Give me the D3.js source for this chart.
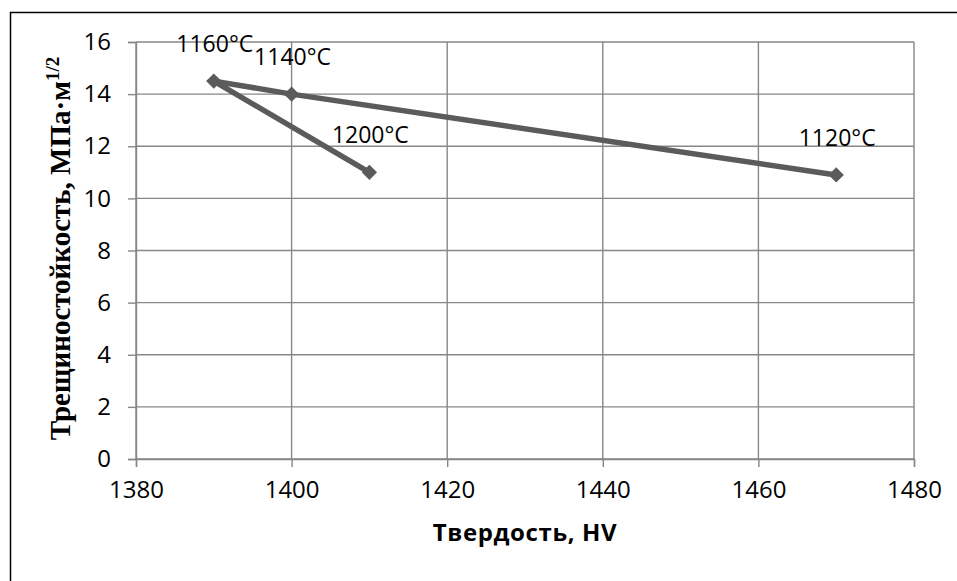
<!DOCTYPE html>
<html>
<head>
<meta charset="utf-8">
<script src="https://cdn.jsdelivr.net/npm/d3@7"></script>
<style>
  body { margin: 0; background: #fff; }
  svg text { fill: #000; }
</style>
</head>
<body>
<div id="chart"></div>
<script>
// данные: твердость HV, трещиностойкость и температура спекания
const temps = ["1120°C", "1140°C", "1160°C", "1200°C"];
const hardness = [1470, 1400, 1390, 1410];
const toughness = [10.9, 14.0, 14.5, 11.0];
const xTicks = [1380, 1400, 1420, 1440, 1460, 1480];
const yTicks = [0, 2, 4, 6, 8, 10, 12, 14, 16];

const W = 957, H = 581;
const margin = { top: 42, right: 43, bottom: 122, left: 136 },
  width = W - margin.left - margin.right,
  height = H - margin.top - margin.bottom;

const root = d3.select("#chart").append("svg")
  .attr("width", W).attr("height", H);

// рамка
root.append("rect")
  .attr("x", 10.5).attr("y", 12.5)
  .attr("width", 980).attr("height", 620)
  .attr("fill", "none").attr("stroke", "#000").attr("stroke-width", 1.5);

const svg = root.append("g")
  .attr("transform", `translate(${margin.left},${margin.top})`);

const x = d3.scaleLinear().domain([1380, 1480]).range([0, width]);
const y = d3.scaleLinear().domain([0, 16]).range([height, 0]);

const gridColor = "#878787";

// сетка
svg.append("g")
  .selectAll("line")
  .data(yTicks)
  .join("line")
  .attr("x1", 0).attr("x2", width)
  .attr("y1", d => y(d)).attr("y2", d => y(d))
  .attr("stroke", gridColor).attr("stroke-width", 1.4);

svg.append("g")
  .selectAll("line")
  .data(xTicks)
  .join("line")
  .attr("x1", d => x(d)).attr("x2", d => x(d))
  .attr("y1", 0).attr("y2", height)
  .attr("stroke", gridColor).attr("stroke-width", 1.4);

// оси
const xAxis = svg.append("g")
  .attr("transform", `translate(0,${height})`)
  .call(d3.axisBottom(x).tickValues(xTicks).tickSize(8).tickPadding(14).tickFormat(d3.format("d")));
const yAxis = svg.append("g")
  .call(d3.axisLeft(y).tickValues(yTicks).tickSize(8).tickPadding(17));

[xAxis, yAxis].forEach(g => {
  g.select(".domain").attr("stroke", gridColor).attr("stroke-width", 1.4);
  g.selectAll(".tick line").attr("stroke", gridColor).attr("stroke-width", 1.4);
  g.selectAll("text")
    .style("font-family", "'Open Sans', sans-serif")
    .style("font-size", "24px")
    .attr("fill", "#000");
});

// линия
const pts = temps.map((t, i) => ({ t, x: hardness[i], y: toughness[i] }));
svg.append("path")
  .datum(pts)
  .attr("fill", "none")
  .attr("stroke", "#5b5b5b")
  .attr("stroke-width", 5.5)
  .attr("stroke-linejoin", "round")
  .attr("d", d3.line().x(d => x(d.x)).y(d => y(d.y)));

svg.selectAll(".mark")
  .data(pts)
  .join("path")
  .attr("class", "mark")
  .attr("transform", d => `translate(${x(d.x)},${y(d.y)})`)
  .attr("d", d3.symbol(d3.symbolDiamond2, 150))
  .attr("fill", "#5b5b5b");

svg.selectAll(".lbl")
  .data(pts)
  .join("text")
  .attr("class", "lbl")
  .attr("x", d => x(d.x) + 1)
  .attr("y", d => y(d.y) - 29)
  .attr("text-anchor", "middle")
  .style("font-family", "'Open Sans', sans-serif")
  .style("font-size", "23px")
  .text(d => d.t);

// подписи осей
svg.append("text")
  .attr("x", width / 2)
  .attr("y", height + 82)
  .attr("text-anchor", "middle")
  .style("font-family", "'Open Sans', sans-serif")
  .style("font-weight", "bold")
  .style("font-size", "24px")
  .style("letter-spacing", "0.6px")
  .text("Твердость, HV");

const yt = svg.append("text")
  .attr("transform", `translate(${-66},${height / 2 - 2}) rotate(-90)`)
  .attr("text-anchor", "middle")
  .style("font-family", "'Liberation Serif', 'Times New Roman', serif")
  .style("font-weight", "bold")
  .style("font-size", "29px");
yt.append("tspan").text("Трещиностойкость, МПа·м");
yt.append("tspan").attr("dy", -11).style("font-size", "19px").text("1/2");
</script>
</body>
</html>
